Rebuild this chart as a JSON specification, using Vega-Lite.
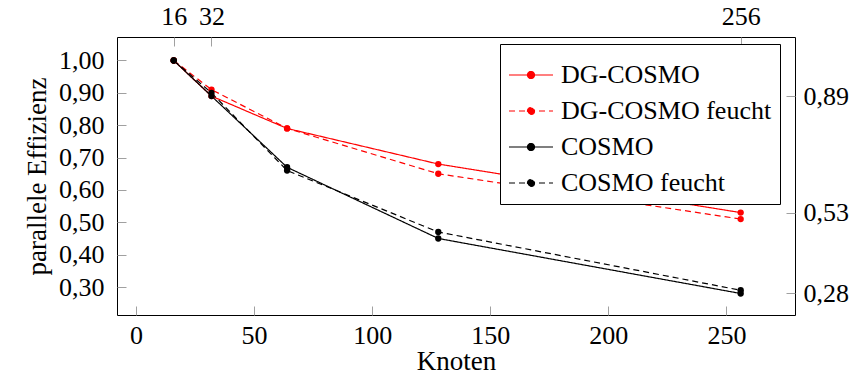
{
  "$schema": "https://vega.github.io/schema/vega-lite/v6.json",
  "width": 678,
  "height": 278,
  "autosize": {"type": "none"},
  "padding": {"left": 117, "top": 37, "right": 59, "bottom": 63},
  "config": {
    "view": {"stroke": "black", "strokeWidth": 1},
    "font": "Liberation Serif",
    "axis": {
      "grid": false,
      "domain": false,
      "offset": -9,
      "tickColor": "#a0a0a0",
      "tickWidth": 1,
      "tickSize": 9,
      "labelFont": "Liberation Serif",
      "labelFontSize": 26,
      "labelColor": "black",
      "titleFont": "Liberation Serif",
      "titleFontSize": 27,
      "titleFontWeight": "normal",
      "titleColor": "black"
    },
    "legend": {
      "labelFont": "Liberation Serif",
      "labelFontSize": 26,
      "labelColor": "black",
      "labelLimit": 400
    }
  },
  "data": {
    "values": [
      {"knoten": 16, "effizienz": 1.00, "serie": "DG-COSMO"},
      {"knoten": 32, "effizienz": 0.89, "serie": "DG-COSMO"},
      {"knoten": 64, "effizienz": 0.79, "serie": "DG-COSMO"},
      {"knoten": 128, "effizienz": 0.68, "serie": "DG-COSMO"},
      {"knoten": 256, "effizienz": 0.53, "serie": "DG-COSMO"},
      {"knoten": 16, "effizienz": 1.00, "serie": "DG-COSMO feucht"},
      {"knoten": 32, "effizienz": 0.91, "serie": "DG-COSMO feucht"},
      {"knoten": 64, "effizienz": 0.79, "serie": "DG-COSMO feucht"},
      {"knoten": 128, "effizienz": 0.65, "serie": "DG-COSMO feucht"},
      {"knoten": 256, "effizienz": 0.51, "serie": "DG-COSMO feucht"},
      {"knoten": 16, "effizienz": 1.00, "serie": "COSMO"},
      {"knoten": 32, "effizienz": 0.89, "serie": "COSMO"},
      {"knoten": 64, "effizienz": 0.67, "serie": "COSMO"},
      {"knoten": 128, "effizienz": 0.45, "serie": "COSMO"},
      {"knoten": 256, "effizienz": 0.28, "serie": "COSMO"},
      {"knoten": 16, "effizienz": 1.00, "serie": "COSMO feucht"},
      {"knoten": 32, "effizienz": 0.90, "serie": "COSMO feucht"},
      {"knoten": 64, "effizienz": 0.66, "serie": "COSMO feucht"},
      {"knoten": 128, "effizienz": 0.47, "serie": "COSMO feucht"},
      {"knoten": 256, "effizienz": 0.29, "serie": "COSMO feucht"}
    ]
  },
  "layer": [
    {
      "mark": {"type": "line", "strokeWidth": 1.2, "point": {"filled": true, "size": 40, "opacity": 1}},
      "encoding": {
        "x": {
          "field": "knoten", "type": "quantitative",
          "scale": {"domain": [-8, 279], "nice": false, "zero": false},
          "axis": {"orient": "bottom", "values": [0, 50, 100, 150, 200, 250], "title": "Knoten", "labelPadding": 7, "titlePadding": 0}
        },
        "y": {
          "field": "effizienz", "type": "quantitative",
          "scale": {"domain": [0.2135, 1.0726], "nice": false, "zero": false},
          "axis": {"orient": "left", "values": [0.3, 0.4, 0.5, 0.6, 0.7, 0.8, 0.9, 1.0], "title": "parallele Effizienz", "labelExpr": "replace(format(datum.value, '.2f'), '.', ',')", "labelPadding": 13, "titlePadding": 7}
        },
        "color": {
          "field": "serie", "type": "nominal",
          "scale": {"domain": ["DG-COSMO", "DG-COSMO feucht", "COSMO", "COSMO feucht"], "range": ["#ff0000", "#ff0000", "#000000", "#000000"]},
          "legend": {
            "orient": "none", "legendX": 383, "legendY": 7, "title": null,
            "strokeColor": "black", "fillColor": "white", "padding": 8,
            "symbolType": "M-1,0H1M0.16,0A0.16,0.16 0 1,1 -0.16,0A0.16,0.16 0 1,1 0.16,0Z",
            "symbolSize": 1936, "symbolStrokeWidth": 1.2,
            "labelFont": "Liberation Serif", "labelFontSize": 26, "labelColor": "black", "labelLimit": 400, "labelOffset": 7,
            "rowPadding": -12,
            "labelExpr": "datum.label == 'COSMO' || datum.label == 'COSMO feucht' ? '\u2003\u2002\u2009' + datum.label : datum.label"
          }
        },
        "strokeDash": {
          "field": "serie", "type": "nominal",
          "scale": {"domain": ["DG-COSMO", "DG-COSMO feucht", "COSMO", "COSMO feucht"], "range": [[1, 0], [6, 4], [1, 0], [6, 4]]}
        }
      }
    },
    {
      "mark": {"type": "point", "opacity": 0},
      "encoding": {
        "x": {
          "field": "knoten", "type": "quantitative",
          "axis": {"orient": "top", "values": [16, 32, 256], "title": null, "labelPadding": 8}
        },
        "y": {
          "field": "effizienz", "type": "quantitative",
          "axis": {"orient": "right", "values": [0.89, 0.53, 0.28], "title": null, "labelExpr": "replace(format(datum.value, '.2f'), '.', ',')", "labelPadding": 8}
        }
      }
    }
  ],
  "resolve": {"axis": {"x": "independent", "y": "independent"}}
}
